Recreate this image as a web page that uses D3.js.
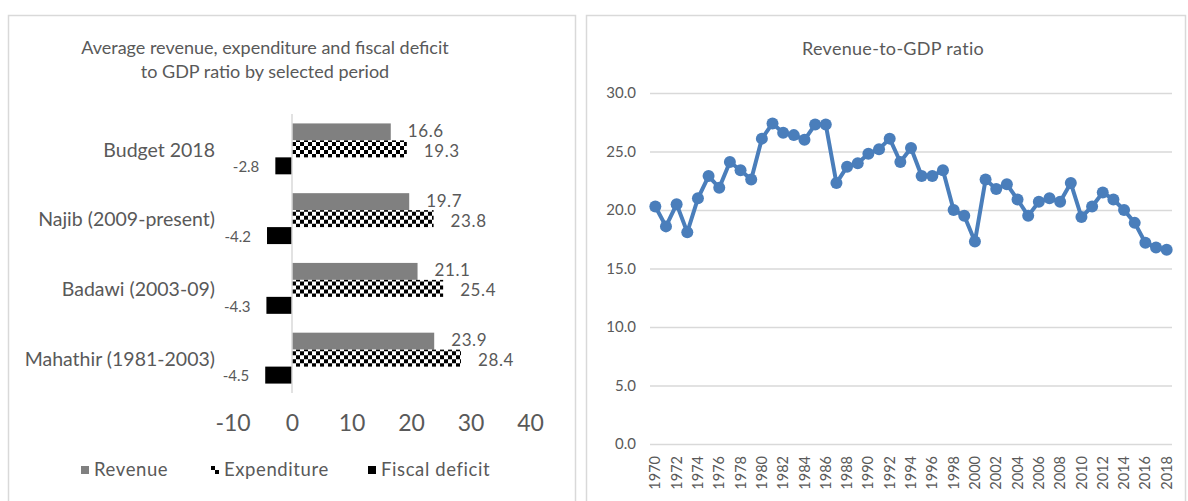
<!DOCTYPE html>
<head>
<meta charset="utf-8">
<script src="https://d3js.org/d3.v7.min.js"></script>
</head>
<style>
body { margin: 0; background: #fff; }
svg { font-family: Lato, "Open Sans", sans-serif; }
.lbl { fill: #595959; }
</style>
<body>
<script>
// left chart data
var periods = ["Budget 2018", "Najib (2009-present)", "Badawi (2003-09)", "Mahathir (1981-2003)"];
var seriesNames = ["Revenue", "Expenditure", "Fiscal deficit"];
var revenue = [16.6, 19.7, 21.1, 23.9];
var expenditure = [19.3, 23.8, 25.4, 28.4];
var deficit = [-2.8, -4.2, -4.3, -4.5];
var barTicks = [-10, 0, 10, 20, 30, 40];

// right chart data
var years = d3.range(1970, 2019);
var revGdp = [20.3, 18.6, 20.5, 18.1, 21.0, 22.9, 21.9, 24.1, 23.4, 22.6,
              26.1, 27.4, 26.6, 26.4, 26.0, 27.3, 27.3, 22.3, 23.7, 24.0,
              24.8, 25.2, 26.1, 24.1, 25.3, 22.9, 22.9, 23.4, 20.0, 19.5,
              17.3, 22.6, 21.8, 22.2, 20.9, 19.5, 20.7, 21.0, 20.7, 22.3,
              19.4, 20.3, 21.5, 20.9, 20.0, 18.9, 17.2, 16.8, 16.6];
var lineTicks = [0, 5, 10, 15, 20, 25, 30];

var svg = d3.select("body").append("svg")
    .attr("width", 1188)
    .attr("height", 501);

// checker pattern for expenditure
var defs = svg.append("defs");
var pat = defs.append("pattern")
    .attr("id", "checker")
    .attr("patternUnits", "userSpaceOnUse")
    .attr("width", 8).attr("height", 8);
pat.append("rect").attr("width", 8).attr("height", 8).attr("fill", "#fff");
pat.append("rect").attr("width", 4).attr("height", 4).attr("fill", "#000");
pat.append("rect").attr("x", 4).attr("y", 4).attr("width", 4).attr("height", 4).attr("fill", "#000");

var fills = {"Revenue": "#808080", "Expenditure": "url(#checker)", "Fiscal deficit": "#000"};

// panel frames
svg.append("rect").attr("x", 8.5).attr("y", 15.5).attr("width", 567).attr("height", 500)
    .attr("fill", "none").attr("stroke", "#d9d9d9").attr("stroke-width", 1.5);
svg.append("rect").attr("x", 586.5).attr("y", 15.5).attr("width", 599).attr("height", 500)
    .attr("fill", "none").attr("stroke", "#d9d9d9").attr("stroke-width", 1.5);

// ---------- left: grouped horizontal bars ----------
var rows = periods.map(function(p, i) {
  return {period: p, values: [revenue[i], expenditure[i], deficit[i]]};
});

var x = d3.scaleLinear().domain([-10, 40]).range([232.5, 530]);
var y = d3.scaleBand().domain(periods).range([114, 393]);
var grp = y.bandwidth() * 0.73;
var y1 = d3.scaleBand().domain(seriesNames)
    .range([(y.bandwidth() - grp) / 2, (y.bandwidth() + grp) / 2]);

var left = svg.append("g");

left.append("text")
    .attr("class", "lbl")
    .attr("x", 265).attr("y", 54)
    .attr("text-anchor", "middle")
    .style("font-size", "18px")
    .text("Average revenue, expenditure and fiscal deficit");
left.append("text")
    .attr("class", "lbl")
    .attr("x", 265).attr("y", 78)
    .attr("text-anchor", "middle")
    .style("font-size", "18px")
    .text("to GDP ratio by selected period");

var groups = left.selectAll(".grp")
    .data(rows)
  .enter().append("g")
    .attr("class", "grp")
    .attr("transform", function(d) { return "translate(0," + y(d.period) + ")"; });

groups.selectAll("rect")
    .data(function(d) { return d.values.map(function(v, i) { return {s: seriesNames[i], v: v}; }); })
  .enter().append("rect")
    .attr("x", function(d) { return x(Math.min(0, d.v)); })
    .attr("y", function(d) { return y1(d.s); })
    .attr("width", function(d) { return Math.abs(x(d.v) - x(0)); })
    .attr("height", y1.bandwidth())
    .attr("fill", function(d) { return fills[d.s]; });

// value labels; revenue nudged up, expenditure down so they sit like the original
var nudge = {"Revenue": -1, "Expenditure": 2, "Fiscal deficit": 1};
groups.selectAll(".val")
    .data(function(d) { return d.values.map(function(v, i) { return {s: seriesNames[i], v: v}; }); })
  .enter().append("text")
    .attr("class", "val lbl")
    .attr("x", function(d) { return d.v < 0 ? x(d.v) - 16 : x(d.v) + 17; })
    .attr("y", function(d) { return y1(d.s) + y1.bandwidth() / 2 + nudge[d.s]; })
    .attr("dy", "0.35em")
    .attr("text-anchor", function(d) { return d.v < 0 ? "end" : "start"; })
    .style("font-size", function(d) { return d.v < 0 ? "15px" : "17px"; })
    .style("letter-spacing", function(d) { return d.v < 0 ? "0px" : "0.6px"; })
    .text(function(d) { return d.v.toFixed(1); });

// category labels
left.selectAll(".cat")
    .data(periods)
  .enter().append("text")
    .attr("class", "cat lbl")
    .attr("x", 215)
    .attr("y", function(d) { return y(d) + y.bandwidth() / 2 + 1; })
    .attr("dy", "0.35em")
    .attr("text-anchor", "end")
    .style("font-size", "19.5px")
    .text(function(d) { return d; });

// zero line
left.append("line")
    .attr("x1", x(0)).attr("x2", x(0))
    .attr("y1", 114).attr("y2", 393)
    .attr("stroke", "#d9d9d9").attr("stroke-width", 1.5);

var xAx = left.append("g")
    .attr("transform", "translate(0,412)")
    .call(d3.axisBottom(x).tickValues(barTicks).tickSize(0).tickFormat(function(d) { return String(d); }));
xAx.select(".domain").remove();
xAx.selectAll("text")
    .attr("fill", "#595959")
    .style("font-family", "Lato, sans-serif")
    .style("font-size", "23px");

// legend
var legX = [81, 211, 368];
var leg = left.selectAll(".leg")
    .data(seriesNames)
  .enter().append("g")
    .attr("class", "leg")
    .attr("transform", function(d, i) { return "translate(" + legX[i] + ",466)"; });
leg.append("rect")
    .attr("width", 8).attr("height", 8)
    .attr("fill", function(d) { return fills[d]; });
leg.append("text")
    .attr("class", "lbl")
    .attr("x", 13).attr("y", 4)
    .attr("dy", "0.35em")
    .style("font-size", "18.5px")
    .style("letter-spacing", "0.6px")
    .text(function(d) { return d; });

// ---------- right: line chart ----------
var right = svg.append("g");

var xr = d3.scaleBand().domain(years).range([650, 1172]);
var yr = d3.scaleLinear().domain([0, 30]).range([444, 93]);

right.append("text")
    .attr("class", "lbl")
    .attr("x", 893).attr("y", 55)
    .attr("text-anchor", "middle")
    .style("font-size", "18px")
    .style("letter-spacing", "0.3px")
    .text("Revenue-to-GDP ratio");

var yAx = right.append("g")
    .attr("transform", "translate(650,0)")
    .call(d3.axisLeft(yr).tickValues(lineTicks).tickSize(-522).tickPadding(14).tickFormat(d3.format(".1f")));
yAx.select(".domain").remove();
yAx.selectAll("line").attr("stroke", "#d9d9d9").attr("stroke-width", 1.5);
yAx.selectAll("text")
    .attr("fill", "#595959")
    .style("font-family", "Lato, sans-serif")
    .style("font-size", "15px");

var xAxR = right.append("g")
    .attr("transform", "translate(0,444)")
    .call(d3.axisBottom(xr).tickValues(years.filter(function(d) { return d % 2 === 0; })).tickSize(0));
xAxR.select(".domain").remove();
xAxR.selectAll("text")
    .attr("fill", "#595959")
    .style("font-family", "Lato, sans-serif")
    .style("font-size", "14.5px")
    .attr("text-anchor", "end")
    .attr("transform", "rotate(-90)")
    .attr("x", -12).attr("y", 0).attr("dy", "0.35em");

var pts = years.map(function(yv, i) { return {year: yv, v: revGdp[i]}; });
var line = d3.line()
    .x(function(d) { return xr(d.year) + xr.bandwidth() / 2; })
    .y(function(d) { return yr(d.v); });

right.append("path")
    .datum(pts)
    .attr("d", line)
    .attr("fill", "none")
    .attr("stroke", "#4a7ebb")
    .attr("stroke-width", 4)
    .attr("stroke-linejoin", "round");

right.selectAll(".dot")
    .data(pts)
  .enter().append("circle")
    .attr("class", "dot")
    .attr("cx", function(d) { return xr(d.year) + xr.bandwidth() / 2; })
    .attr("cy", function(d) { return yr(d.v); })
    .attr("r", 6)
    .attr("fill", "#4a7ebb");
</script>
</body>
